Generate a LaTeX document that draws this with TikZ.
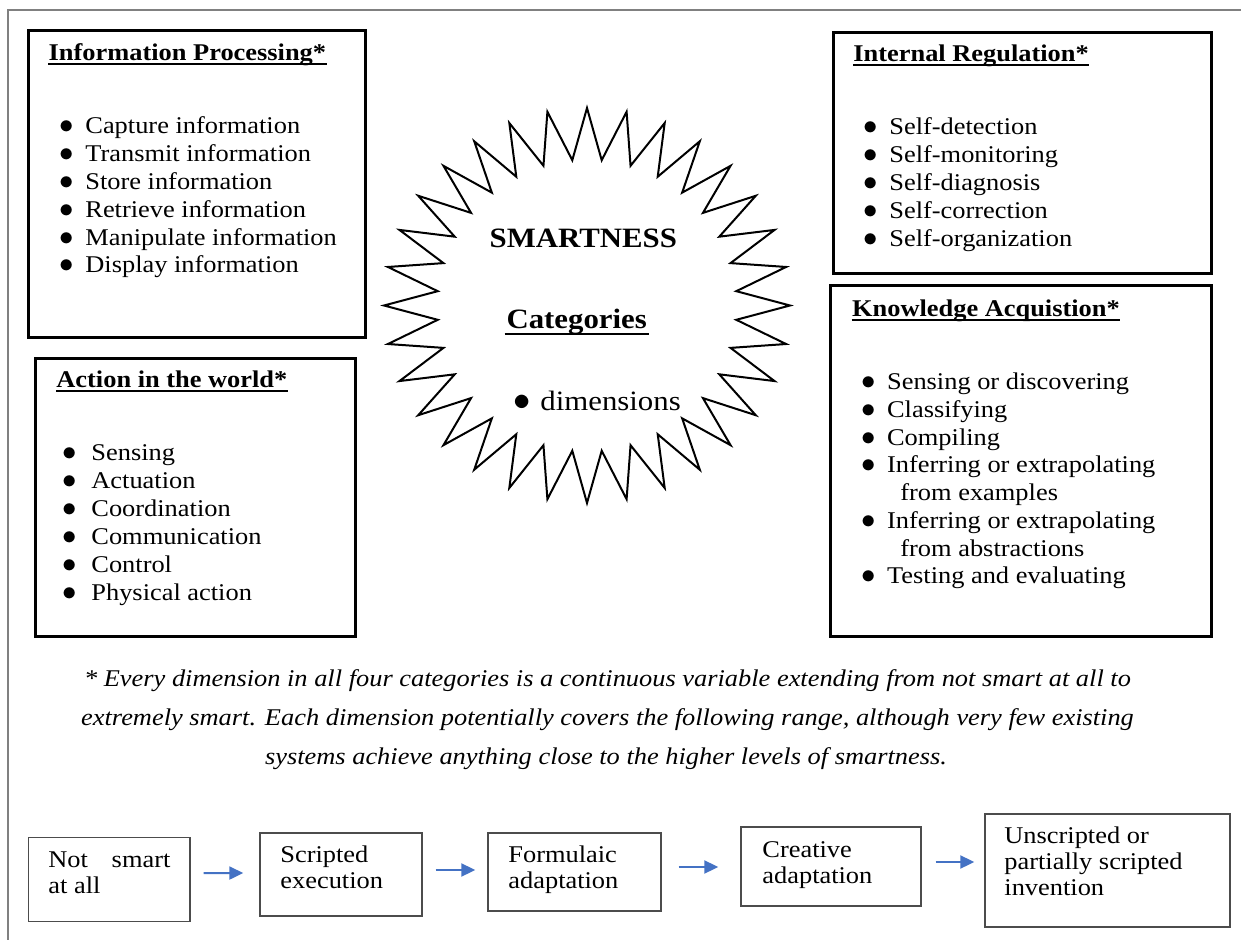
\documentclass[tikz,border=0pt]{standalone}
\usepackage{fontspec}
\setmainfont{Liberation Serif}[FakeStretch=1.1]
\usetikzlibrary{arrows.meta,fit}

\definecolor{arrowblue}{RGB}{68,114,196}
% bullet glyph set to the left of the item text: #1 size, #2 gap
\newcommand\bul[2]{\llap{{\fontsize{#1}{#1}\selectfont$\bullet$}\hspace{#2}}}

\begin{document}
\begin{tikzpicture}[x=0.5pt,y=-0.5pt,line join=miter,
  pageframe/.style={draw=black!50,line width=0.9pt},
  catbox/.style={draw=black,line width=1.5pt,inner sep=0pt},
  stepbox/.style={draw=black!70,line width=0.7pt,inner sep=0pt},
  headtext/.style={anchor=base west,inner sep=0pt,font=\bfseries\fontsize{12}{14}\selectfont},
  itemtext/.style={anchor=base west,inner sep=0pt,font=\fontsize{12}{14}\selectfont},
  startext/.style={anchor=base,inner sep=0pt,font=\bfseries\fontsize{14}{16}\selectfont},
  notetext/.style={anchor=base,inner sep=0pt,font=\itshape\fontsize{12}{14}\selectfont},
  steptext/.style={anchor=base west,inner sep=0pt,font=\fontsize{12}{13}\selectfont},
  uline/.style={line width=1pt},
  starline/.style={draw=black,line width=1pt},
  arr/.style={draw=arrowblue,line width=1pt,-{Triangle[length=7pt,width=6.5pt]}}]
\useasboundingbox (0,0) rectangle (1241,940);

% page frame
\draw[pageframe] (8.3,940) -- (8.3,10) -- (1241,10);

% four category boxes
\node[catbox,fit={(28.3,30.7) (365.7,338)}] (ip) {};
\node[catbox,fit={(833,32.3) (1211.5,274)}] (ir) {};
\node[catbox,fit={(35,358.3) (355.5,636.7)}] (aw) {};
\node[catbox,fit={(830.7,285.5) (1211.5,636.7)}] (ka) {};

% Information Processing
\node[headtext] (iph) at (48.3,60.5) {Information Processing*};
\draw[uline] ([shift={(0,3.5)}]iph.base west) -- ([shift={(0,3.5)}]iph.base east);
\foreach \t [count=\i from 0] in {Capture information,Transmit information,Store information,Retrieve information,Manipulate information,Display information}
  \node[itemtext] (ip\i) at (85,{134+27.8*\i}) {\bul{14}{5.7pt}\t};

% Internal Regulation
\node[headtext] (irh) at (853,62) {Internal Regulation*};
\draw[uline] ([shift={(0,3.5)}]irh.base west) -- ([shift={(0,3.5)}]irh.base east);
\foreach \t [count=\i from 0] in {Self-detection,Self-monitoring,Self-diagnosis,Self-correction,Self-organization}
  \node[itemtext] (ir\i) at (889,{135+27.8*\i}) {\bul{14}{5.7pt}\t};

% Action in the world
\node[headtext] (awh) at (56,388) {Action in the world*};
\draw[uline] ([shift={(0,3.5)}]awh.base west) -- ([shift={(0,3.5)}]awh.base east);
\foreach \t [count=\i from 0] in {Sensing,Actuation,Coordination,Communication,Control,Physical action}
  \node[itemtext] (aw\i) at (91,{461+27.8*\i}) {\bul{14}{7.5pt}\t};

% Knowledge Acquistion
\node[headtext] (kah) at (851.7,317) {Knowledge Acquistion*};
\draw[uline] ([shift={(0,3.5)}]kah.base west) -- ([shift={(0,3.5)}]kah.base east);
\node[itemtext] (ka1) at (886.7,389.5) {\bul{14}{5.5pt}Sensing or discovering};
\node[itemtext] (ka2) at (886.7,417.3) {\bul{14}{5.5pt}Classifying};
\node[itemtext] (ka3) at (886.7,445.1) {\bul{14}{5.5pt}Compiling};
\node[itemtext] (ka4) at (886.7,472.9) {\bul{14}{5.5pt}Inferring or extrapolating};
\node[itemtext] (ka4b) at (900,500.7) {from examples};
\node[itemtext] (ka5) at (886.7,528.5) {\bul{14}{5.5pt}Inferring or extrapolating};
\node[itemtext] (ka5b) at (900,556.3) {from abstractions};
\node[itemtext] (ka6) at (886.7,583.5) {\bul{14}{5.5pt}Testing and evaluating};

% central star
\draw[starline] plot[samples at={0,...,63}]
  ({587+(176.5+26.5*cos(\x*180))*cos(\x*5.625)},
   {305.5+(171.75+25.75*cos(\x*180))*sin(\x*5.625)}) -- cycle;
\node[startext] (smart) at (583.3,247.5) {SMARTNESS};
\node[startext] (cat) at (576.7,329) {Categories};
\draw[line width=1.1pt] ([shift={(-1.5,5)}]cat.base west) -- ([shift={(1.5,5)}]cat.base east);
\node[itemtext,font=\fontsize{14}{16}\selectfont] (dim) at (540,411) {\bul{16}{4.75pt}dimensions};

% footnote
\node[notetext] (c1) at (607.5,686) {* Every dimension in all four categories is a continuous variable extending from not smart at all to};
\node[notetext] (c2) at (607.5,725) {extremely smart. Each dimension potentially covers the following range, although very few existing};
\node[notetext] (c3) at (606,764) {systems achieve anything close to the higher levels of smartness.};

% range of smartness
\node[stepbox,fit={(28.3,837.7) (190,921.5)}] (b1) {};
\node[stepbox,fit={(260,833) (422,916)}] (b2) {};
\node[stepbox,fit={(488,833) (661,911)}] (b3) {};
\node[stepbox,fit={(741,827) (921,906)}] (b4) {};
\node[stepbox,fit={(985,814) (1230,927)}] (b5) {};

\node[steptext] (b1l1) at (48,867) {\makebox[61pt][s]{Not smart}};
\node[steptext] (b1l2) at (48,893) {at all};
\node[steptext] (b2l1) at (280,862.5) {Scripted};
\node[steptext] (b2l2) at (280,888.5) {execution};
\node[steptext] (b3l1) at (508,862.5) {Formulaic};
\node[steptext] (b3l2) at (508,888.5) {adaptation};
\node[steptext] (b4l1) at (762,857) {Creative};
\node[steptext] (b4l2) at (762,883) {adaptation};
\node[steptext] (b5l1) at (1004,843.5) {Unscripted or};
\node[steptext] (b5l2) at (1004,869.5) {partially scripted};
\node[steptext] (b5l3) at (1004,895.5) {invention};

\draw[arr] ([shift={(13,-6.5)}]b1.east) -- ([shift={(-16,-1.5)}]b2.west);
\draw[arr] ([shift={(13,-4.5)}]b2.east) -- ([shift={(-12,-2)}]b3.west);
\draw[arr] ([shift={(17,-5)}]b3.east) -- ([shift={(-22,0.5)}]b4.west);
\draw[arr] ([shift={(14,-4.5)}]b4.east) -- ([shift={(-10,-8.5)}]b5.west);
\end{tikzpicture}
\end{document}
